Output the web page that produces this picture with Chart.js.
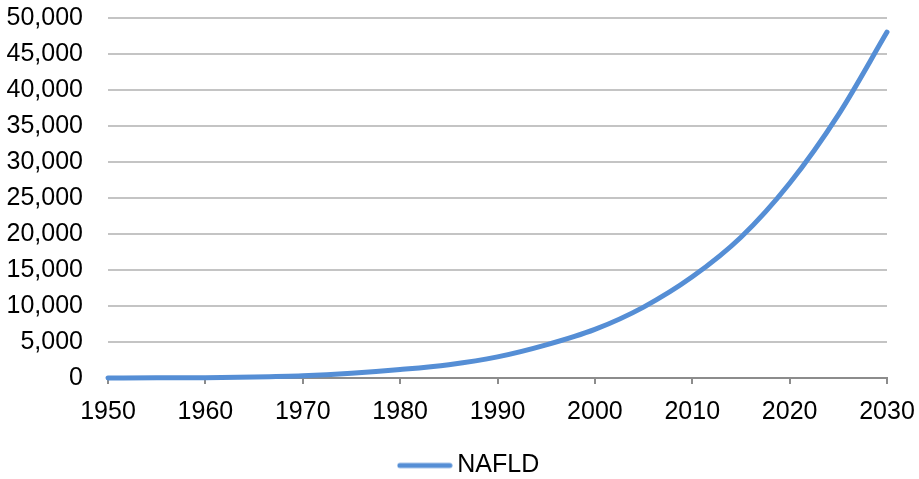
<!DOCTYPE html>
<html>
<head>
<meta charset="utf-8">
<script src="https://cdn.jsdelivr.net/npm/chart.js@4"></script>
<style>
  html, body { margin: 0; padding: 0; background: #ffffff; }
  #wrap { width: 919px; height: 479px; }
</style>
</head>
<body>
<div id="wrap"><canvas id="c" width="919" height="479"></canvas></div>
<script>
// Estimated NAFLD cases by year
const years = [1950, 1955, 1960, 1965, 1970, 1975, 1980, 1985, 1990, 1995, 2000, 2005, 2010, 2015, 2020, 2025, 2030];
const nafld = [0, 20, 50, 130, 300, 650, 1170, 1850, 2930, 4600, 6750, 9850, 14050, 19550, 27050, 36550, 48050];
const yearTicks = [1950, 1960, 1970, 1980, 1990, 2000, 2010, 2020, 2030];
const valueTicks = [0, 5000, 10000, 15000, 20000, 25000, 30000, 35000, 40000, 45000, 50000];
const seriesName = 'NAFLD';

const lineColor = '#558ED5';
const fontFamily = '"Liberation Sans", Arial, sans-serif';

const points = years.map((y, i) => ({ x: y, y: nafld[i] }));

// Legend swatch: a short thick rounded stroke in the series colour
const swatch = document.createElement('canvas');
swatch.width = 56;
swatch.height = 8;
(() => {
  const g = swatch.getContext('2d');
  g.strokeStyle = lineColor;
  g.lineWidth = 5;
  g.lineCap = 'round';
  g.beginPath();
  g.moveTo(3, 4);
  g.lineTo(53, 4);
  g.stroke();
})();

// Centre the legend entry under the plot rather than under the whole canvas
const legendOffset = {
  id: 'legendOffset',
  afterLayout(chart) {
    if (chart.legend) chart.legend.left = 57;
  }
};

new Chart(document.getElementById('c'), {
  type: 'line',
  data: {
    datasets: [{
      label: seriesName,
      data: points,
      borderColor: lineColor,
      backgroundColor: lineColor,
      borderWidth: 5,
      borderCapStyle: 'round',
      borderJoinStyle: 'round',
      pointRadius: 0,
      cubicInterpolationMode: 'monotone',
      fill: false,
      clip: false
    }]
  },
  plugins: [legendOffset],
  options: {
    responsive: false,
    animation: false,
    devicePixelRatio: 1,
    layout: { padding: { left: 0, right: 32, top: 18, bottom: -9 } },
    scales: {
      x: {
        type: 'linear',
        min: yearTicks[0],
        max: yearTicks[yearTicks.length - 1],
        afterBuildTicks: (scale) => { scale.ticks = yearTicks.map(v => ({ value: v })); },
        afterFit: (scale) => {
          scale.height = 75;
          scale.paddingLeft = 0;
          scale.paddingRight = 0;
        },
        grid: {
          drawOnChartArea: false,
          drawTicks: true,
          tickLength: 6,
          color: '#8C8C8C',
          lineWidth: 2
        },
        border: { display: true, color: '#8C8C8C', width: 2 },
        ticks: {
          padding: 13,
          maxRotation: 0,
          autoSkip: false,
          color: '#000000',
          font: { family: fontFamily, size: 25 },
          callback: (v) => String(v)
        }
      },
      y: {
        min: valueTicks[0],
        max: valueTicks[valueTicks.length - 1],
        afterBuildTicks: (scale) => { scale.ticks = valueTicks.map(v => ({ value: v })); },
        afterFit: (scale) => {
          scale.width = 108;
          scale.paddingTop = 0;
          scale.paddingBottom = 0;
        },
        grid: {
          drawTicks: false,
          color: '#C4C4C4',
          lineWidth: 2
        },
        border: { display: false },
        ticks: {
          padding: 25,
          color: '#000000',
          font: { family: fontFamily, size: 25 },
          callback: (v) => Number(v).toLocaleString('en-US')
        }
      }
    },
    plugins: {
      tooltip: { enabled: false },
      legend: {
        position: 'bottom',
        labels: {
          usePointStyle: true,
          pointStyleWidth: 40,
          boxHeight: 5,
          padding: 0,
          color: '#000000',
          font: { family: fontFamily, size: 25 },
          generateLabels: (chart) => chart.data.datasets.map((ds, i) => ({
            text: ds.label,
            datasetIndex: i,
            strokeStyle: ds.borderColor,
            fillStyle: ds.borderColor,
            lineWidth: 0,
            pointStyle: swatch,
            fontColor: '#000000',
            hidden: false
          }))
        }
      }
    }
  }
});
</script>
</body>
</html>
